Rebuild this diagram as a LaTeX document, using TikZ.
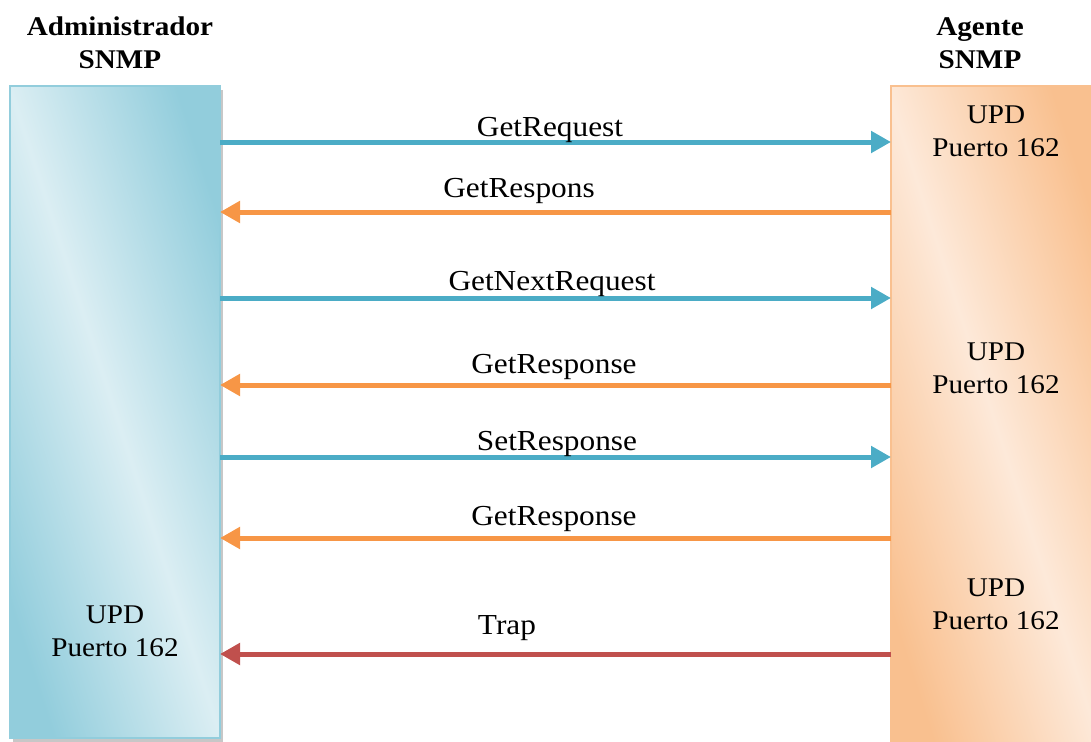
\documentclass[tikz,border=0pt]{standalone}
\usepackage{fontspec}
\setmainfont{Liberation Serif}[FakeStretch=1.08]
\usetikzlibrary{arrows.meta,shadows}
\definecolor{snmpblue}{HTML}{4BACC6}
\definecolor{snmporange}{HTML}{F79646}
\definecolor{snmpred}{HTML}{C0504D}
\definecolor{admindark}{HTML}{92CDDC}
\definecolor{adminlight}{HTML}{DBEEF3}
\definecolor{agentdark}{HTML}{F9C08F}
\definecolor{agentlight}{HTML}{FDE9D9}
\newcommand{\MsgFont}{\fontsize{29}{34}\selectfont}
\newcommand{\BoxFont}{\fontsize{27}{33}\selectfont}
\tikzset{
  hostbox/.style={
    inner sep=0pt,
    outer sep=0pt,
    anchor=north west
  },
  adminbox/.style={
    hostbox,
    draw=admindark,
    line width=2.5pt,
    top color=admindark,
    bottom color=admindark,
    middle color=adminlight,
    shading angle=-72,
    drop shadow={shadow xshift=2.5pt,shadow yshift=-4pt,opacity=.55,fill=gray!80}
  },
  agentbox/.style={
    hostbox,
    draw=agentdark,
    line width=2pt,
    top color=agentdark,
    bottom color=agentdark,
    middle color=agentlight,
    shading angle=-72
  },
  hosttitle/.style={
    font=\BoxFont\bfseries,
    align=center,
    inner sep=0pt
  },
  porttext/.style={
    font=\BoxFont,
    align=center,
    inner sep=0pt
  },
  msglabel/.style={
    font=\MsgFont,
    anchor=base,
    inner sep=0pt
  },
  msgarrow/.style={
    line width=5pt,
    -{Triangle[length=20pt,width=21pt]}
  }
}

\begin{document}
\begin{tikzpicture}[x=1pt,y=-1pt]
  \useasboundingbox (0,0) rectangle (1091,741);

  % hosts
  \node[adminbox,minimum width=210,minimum height=652] (admin) at (10,86) {};
  \node[agentbox,minimum width=203,minimum height=657] (agent) at (891,86) {};

  \node[hosttitle] (admintitle) at (120,43) {Administrador\\SNMP};
  \node[hosttitle] (agenttitle) at (980,43) {Agente\\SNMP};

  \node[porttext] (adminport) at (115,631) {UPD\\Puerto 162};
  \node[porttext] (agentport1) at (996,131) {UPD\\Puerto 162};
  \node[porttext] (agentport2) at (996,368) {UPD\\Puerto 162};
  \node[porttext] (agentport3) at (996,604) {UPD\\Puerto 162};

  % messages
  \draw[msgarrow,snmpblue] (admin.east |- 0,142) -- (agent.west |- 0,142);
  \draw[msgarrow,snmporange] (agent.west |- 0,212) -- (admin.east |- 0,212);
  \draw[msgarrow,snmpblue] (admin.east |- 0,298) -- (agent.west |- 0,298);
  \draw[msgarrow,snmporange] (agent.west |- 0,385) -- (admin.east |- 0,385);
  \draw[msgarrow,snmpblue] (admin.east |- 0,457) -- (agent.west |- 0,457);
  \draw[msgarrow,snmporange] (agent.west |- 0,538) -- (admin.east |- 0,538);
  \draw[msgarrow,snmpred] (agent.west |- 0,654) -- (admin.east |- 0,654);

  \node[msglabel] (getreq) at (550,136) {GetRequest};
  \node[msglabel] (getresp1) at (519,197) {GetRespons};
  \node[msglabel] (getnext) at (552,290) {GetNextRequest};
  \node[msglabel] (getresp2) at (554,373) {GetResponse};
  \node[msglabel] (setresp) at (557,450) {SetResponse};
  \node[msglabel] (getresp3) at (554,525) {GetResponse};
  \node[msglabel] (trap) at (507,634) {Trap};
\end{tikzpicture}
\end{document}
